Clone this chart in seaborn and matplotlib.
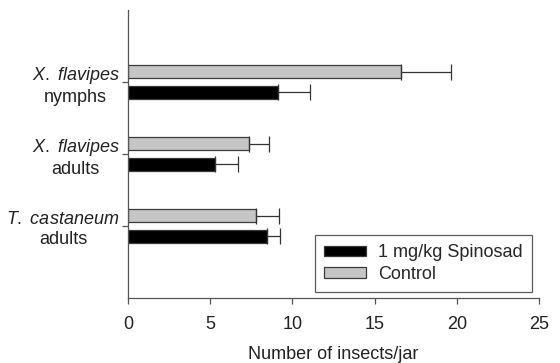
import pandas as pd
import seaborn as sns
import matplotlib.pyplot as plt

# data
groups = [r"$\mathit{X.\ flavipes}$" + "\nnymphs",
          r"$\mathit{X.\ flavipes}$" + "\nadults",
          r"$\mathit{T.\ castaneum}$" + "\nadults"]
treatments = ["Control", "1 mg/kg Spinosad"]
control_mean = [16.6, 7.35, 7.8]
control_err = [3.05, 1.2, 1.4]
spinosad_mean = [9.15, 5.3, 8.45]
spinosad_err = [1.95, 1.4, 0.8]

df = pd.DataFrame({
    "group": groups * 2,
    "treatment": [treatments[0]] * 3 + [treatments[1]] * 3,
    "insects": control_mean + spinosad_mean,
})
errs = {treatments[0]: control_err, treatments[1]: spinosad_err}

sns.set_style("ticks")
plt.rcParams["font.family"] = ["Liberation Sans", "DejaVu Sans"]
plt.rcParams["mathtext.fontset"] = "custom"
plt.rcParams["mathtext.rm"] = "Liberation Sans"
plt.rcParams["mathtext.it"] = "Liberation Sans:italic"

fig = plt.figure(figsize=(5.6, 3.63), dpi=100)
ax = fig.add_axes([0.2286, 0.179, 0.7339, 0.7935])

sns.barplot(data=df, x="insects", y="group", hue="treatment",
            hue_order=treatments, order=groups,
            palette={"Control": "#c6c6c6", "1 mg/kg Spinosad": "#000000"},
            width=0.58, gap=0.38, errorbar=None, legend=False, ax=ax,
            edgecolor="#3a3a3a", linewidth=0.9)

# one-sided error bars from the drawn bars
for cont, tr in zip(ax.containers, treatments):
    ys = [b.get_y() + b.get_height() / 2 for b in cont]
    xs = [b.get_width() for b in cont]
    ax.errorbar(xs, ys, xerr=[[0] * len(xs), errs[tr]], fmt="none",
                ecolor="#333333", elinewidth=0.9, capsize=5.5, capthick=0.9)

ax.set_xlim(0, 25)
ax.set_ylim(3, -1)
ax.set_xticks([0, 5, 10, 15, 20, 25])
ax.set_yticks(range(len(groups)))
ax.set_yticklabels(groups, multialignment="center", fontsize=13, color="#222222")
ax.tick_params(axis="x", labelsize=13, length=4, width=0.9, pad=9,
               colors="#555555", labelcolor="#222222")
ax.tick_params(axis="y", length=4, width=0.9, pad=2, colors="#555555",
               labelcolor="#222222")
ax.set_xlabel("Number of insects/jar", fontsize=13, color="#222222", labelpad=9)
ax.set_ylabel("")
sns.despine(ax=ax)
for s in ["left", "bottom"]:
    ax.spines[s].set_color("#555555")
    ax.spines[s].set_linewidth(0.9)

handles = [ax.containers[1][0], ax.containers[0][0]]
leg = ax.legend(handles, [treatments[1], treatments[0]], loc="lower right",
                bbox_to_anchor=(0.983, 0.021), borderaxespad=0, fontsize=13,
                frameon=True, fancybox=False, handlelength=2.3,
                handleheight=0.55, borderpad=0.5, labelspacing=0.25,
                handletextpad=0.7)
leg.get_frame().set_edgecolor("#333333")
leg.get_frame().set_linewidth(0.9)

plt.savefig("out.png", dpi=100)
